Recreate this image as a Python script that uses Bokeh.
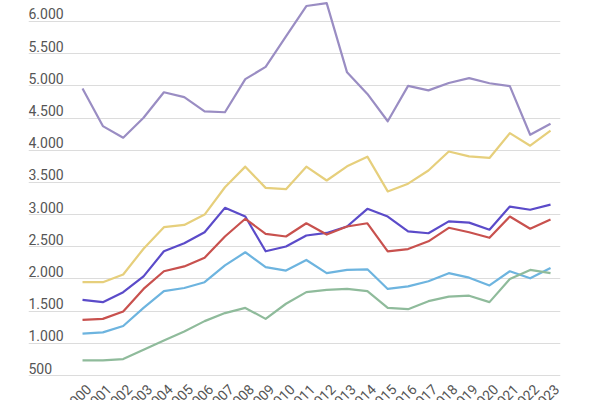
import math
from bokeh.plotting import figure
from bokeh.models import Grid, FixedTicker, ColumnDataSource
from bokeh.core.properties import value
from bokeh.embed import file_html
from bokeh.resources import INLINE

years = list(range(2000, 2024))
year_labels = [str(y) for y in years]

y_ticks = [500, 1000, 1500, 2000, 2500, 3000, 3500, 4000, 4500, 5000, 5500, 6000]
y_tick_labels = ["500", "1.000", "1.500", "2.000", "2.500", "3.000", "3.500",
                 "4.000", "4.500", "5.000", "5.500", "6.000"]

series_lavender = [4960, 4375, 4195, 4505, 4900, 4825, 4605, 4590, 5105, 5295, 5770, 6240,
                   6285, 5210, 4875, 4450, 5000, 4930, 5045, 5120, 5040, 4995, 4240, 4410]
series_yellow = [1950, 1950, 2070, 2470, 2805, 2840, 3000, 3425, 3745, 3415, 3395, 3745,
                 3530, 3750, 3900, 3360, 3480, 3685, 3980, 3905, 3880, 4265, 4070, 4305]
series_indigo = [1675, 1640, 1795, 2040, 2430, 2555, 2725, 3105, 2970, 2430, 2505, 2675,
                 2715, 2815, 3090, 2970, 2740, 2710, 2895, 2875, 2765, 3125, 3075, 3155]
series_red = [1365, 1380, 1495, 1845, 2120, 2195, 2330, 2660, 2935, 2700, 2660, 2865,
              2690, 2815, 2865, 2430, 2465, 2585, 2795, 2725, 2640, 2970, 2780, 2925]
series_blue = [1150, 1170, 1270, 1550, 1810, 1860, 1950, 2210, 2415, 2185, 2130, 2295,
               2090, 2140, 2150, 1845, 1885, 1965, 2090, 2020, 1900, 2120, 2010, 2170]
series_green = [735, 735, 755, 900, 1045, 1185, 1345, 1470, 1550, 1380, 1615, 1795,
                1830, 1845, 1810, 1550, 1530, 1655, 1725, 1740, 1640, 2000, 2140, 2090]

series = [
    (series_lavender, "#9a8dc3"),
    (series_yellow, "#e6cf7c"),
    (series_indigo, "#5b4bc9"),
    (series_red, "#c8514e"),
    (series_blue, "#6db4df"),
    (series_green, "#8fbb9b"),
]

x_start, x_end = 1997.346, 2023.49
p = figure(width=592, height=400, output_backend="svg", toolbar_location=None,
           x_range=(x_start, x_end), y_range=(112, 6326),
           x_axis_location=None, y_axis_location=None,
           min_border_left=28, min_border_right=32, min_border_top=0, min_border_bottom=0)
p.outline_line_color = None
p.background_fill_color = "white"
p.border_fill_color = "white"
p.center = []

p.add_layout(Grid(dimension=1, ticker=FixedTicker(ticks=y_ticks),
                  grid_line_color="#dcdcdc", grid_line_width=1))

for vals, col in series:
    p.line(years, vals, line_color=col, line_width=2.2, line_join="round")

ysrc = ColumnDataSource(dict(x=[x_start] * len(y_ticks), y=y_ticks, t=y_tick_labels))
p.text(x="x", y="y", text="t", source=ysrc, text_font=value("Roboto"),
       text_font_size="14px", text_color="#555555", text_align="left",
       text_baseline="bottom", y_offset=-2)

xsrc = ColumnDataSource(dict(x=years, y=[500] * len(years), t=year_labels))
p.text(x="x", y="y", text="t", source=xsrc, text_font=value("Roboto"),
       text_font_size="14px", text_color="#555555", text_align="right",
       text_baseline="top", angle=math.pi / 4, x_offset=2, y_offset=7)

open("out.html", "w").write(file_html(p, INLINE))
